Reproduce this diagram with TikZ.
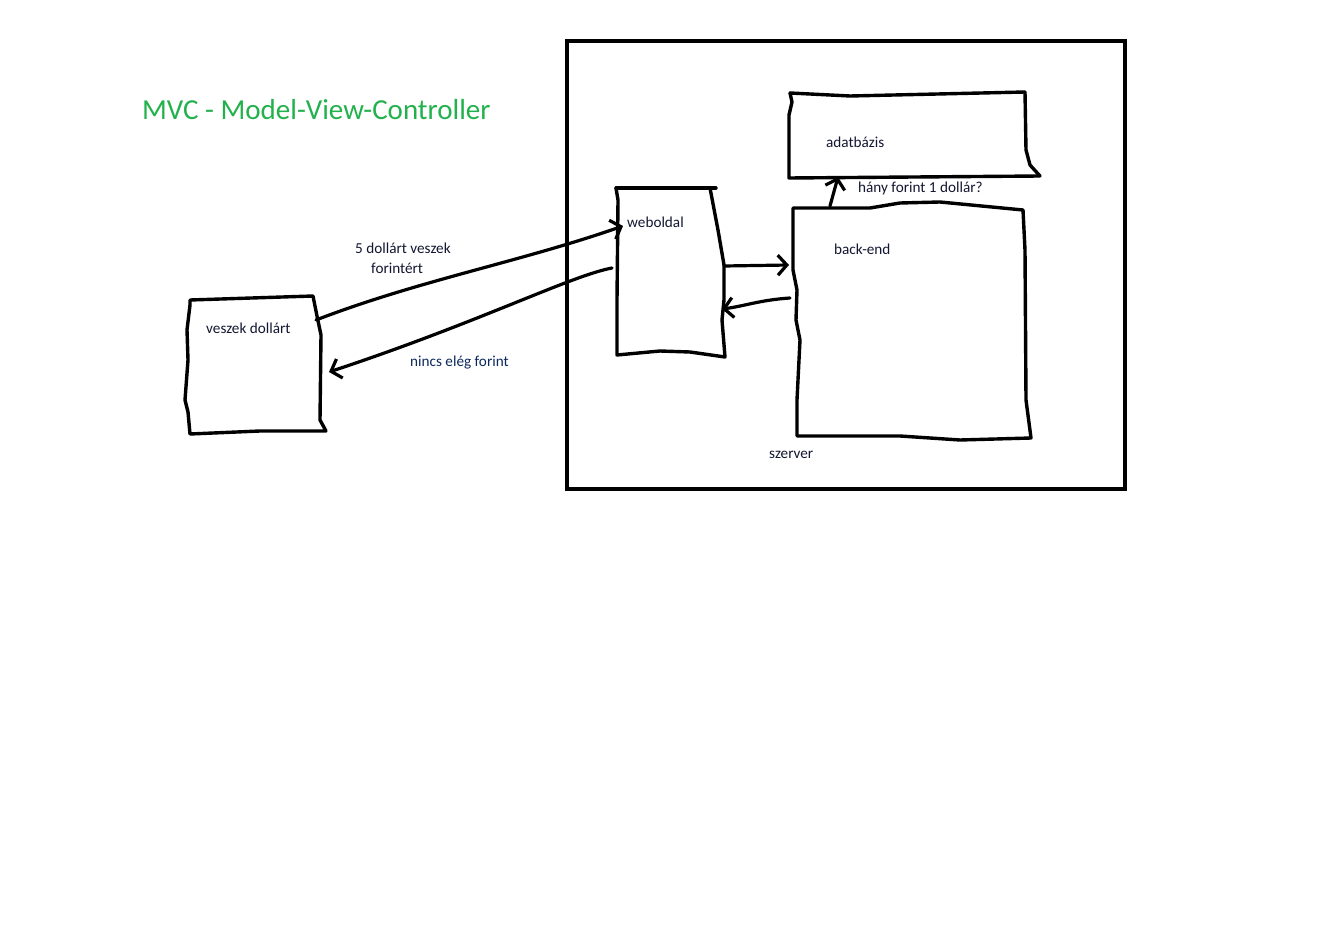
\documentclass[tikz,border=0pt]{standalone}
\usepackage{fontspec}
\setmainfont{Carlito}
\usepackage{tikz}
\usetikzlibrary{arrows.meta,positioning}
\usepackage{xcolor}
\definecolor{mvcgreen}{RGB}{34,177,76}
\definecolor{ink}{RGB}{18,22,48}
\definecolor{inkblue}{RGB}{12,40,92}

\begin{document}
\begin{tikzpicture}[
    x=1pt, y=-1pt,
    sketch/.style={line width=3.4pt, line join=round, line cap=round},
    arrow/.style={-{Straight Barb[length=9pt,width=20pt]}, line width=3.2pt, line cap=round},
    lbl/.style={anchor=base west, inner sep=0pt, text=ink, font=\fontsize{15.2}{17}\selectfont}
]
\useasboundingbox (0,0) rectangle (1342,944);

% Title
\node[anchor=base west, inner sep=0pt, text=mvcgreen, font=\fontsize{29}{32}\selectfont] (title) at (142,120) {MVC - Model-View-Controller};

% Server frame
\draw[line width=4.5pt] (567,41) rectangle (1125,489);
\node[lbl] (szerver) at (769,458) {szerver};

% Client box
\draw[sketch] (190,300) -- (313,296) -- (317,316) -- (321,335) -- (320,420) -- (326,431)
    -- (260,431) -- (190,434) -- (188,412) -- (185,400) -- (188,360) -- (187,330) -- (190,305) -- (190,300);
\node[lbl] (veszek) at (206,334) {veszek dollárt};

% Web page box
\draw[sketch] (616,188) -- (716,188);
\draw[sketch] (710,188) -- (718,230) -- (724,265) -- (724,300) -- (722,320) -- (725,357)
    -- (690,352) -- (660,351) -- (617,355) -- (617,300) -- (618,200) -- (616,188);
\node[lbl] (weboldal) at (627,228) {weboldal};

% Database box
\draw[sketch] (790,93) -- (850,96) -- (1025,92);
\draw[sketch] (790,93) -- (792,102) -- (789,115) -- (789,178) -- (1040,176);
\draw[sketch] (1025,92) -- (1026,150) -- (1030,165) -- (1040,176);
\node[lbl] (adatbazis) at (826,148) {adatbázis};

% Back-end box
\draw[sketch] (793,208) -- (870,208) -- (900,203) -- (940,202) -- (1023,210)
    -- (1025,250) -- (1026,400) -- (1031,438) -- (960,440) -- (900,436) -- (797,436)
    -- (797,400) -- (800,340) -- (796,320) -- (797,290) -- (793,270) -- (793,208);
\node[lbl] (backend) at (834,255) {back-end};

% Connector ends
\coordinate (vd-out) at (316,320);
\coordinate (wb-in) at (623,226);
\coordinate (wb-ret) at (612,268);
\coordinate (vd-in) at (329,372);
\coordinate (wb-east) at (724,266);
\coordinate (be-west) at (789,265);
\coordinate (be-ret) at (790,298);
\coordinate (wb-back) at (722,309);
\coordinate (be-top) at (830,206);
\coordinate (db-bottom) at (838,177);

% Requests and answers
\draw[arrow] (vd-out) .. controls (420,280) and (520,262) .. (wb-in);
\node[lbl] (req1) at (355,254) {5 dollárt veszek};
\node[lbl] (req2) at (371,274) {forintért};

\draw[arrow] (wb-ret) .. controls (570,276) and (480,322) .. (vd-in);
\node[lbl, text=inkblue] (resp) at (410,366) {nincs elég forint};

\draw[arrow] (wb-east) -- (be-west);
\draw[arrow] (be-ret) .. controls (760,300) and (745,306) .. (wb-back);

\draw[arrow] (be-top) -- (db-bottom);
\node[lbl] (query) at (858,193) {hány forint 1 dollár?};

\end{tikzpicture}
\end{document}
